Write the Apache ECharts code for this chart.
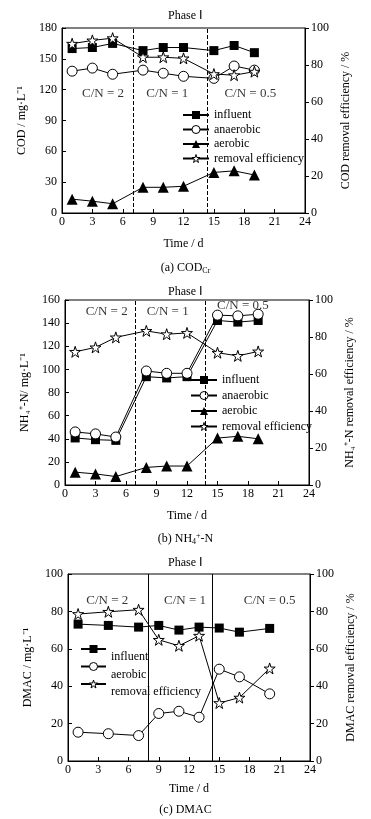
<!DOCTYPE html>
<html>
<head>
<meta charset="utf-8">
<script src="https://cdn.jsdelivr.net/npm/echarts@6/dist/echarts.min.js"></script>
<style>
  html, body { margin: 0; padding: 0; background: #fff; }
  #chart { width: 371px; height: 819px; }
</style>
</head>
<body>
<div id="chart"></div>
<script>
  // (a) COD
  const daysA = [1, 3, 5, 8, 10, 12, 15, 17, 19];
  const codInfluent = [160, 161, 165, 158, 161, 161, 158, 163, 156];
  const codAnaerobic = [138, 141, 135, 139, 136, 133, 131, 143, 139];
  const codAerobic = [13.5, 11.5, 9, 25, 25, 26, 39.5, 41, 37];
  const codRemoval = [91.5, 93.3, 94.5, 84.2, 84.2, 83.6, 75.1, 74.5, 76.4];
  const boundsA = [7, 14.3];

  // (b) NH4+-N
  const daysB = [1, 3, 5, 8, 10, 12, 15, 17, 19];
  const nhInfluent = [40.7, 39.2, 38.6, 93.7, 92.6, 93.7, 142.3, 140.9, 142.3];
  const nhAnaerobic = [45.9, 44.2, 41.5, 98.6, 96.6, 96.6, 146.9, 146.3, 147.7];
  const nhAerobic = [11.1, 9.6, 7.3, 15.2, 16.4, 16.4, 40.6, 42.1, 40];
  const nhRemoval = [72, 74.4, 79.8, 83.3, 81.5, 82.2, 71.5, 69.8, 72.2];
  const boundsB = [6.9, 13.75];

  // (c) DMAC
  const daysC = [1, 4, 7, 9, 11, 13, 15, 17, 20];
  const dmacInfluent = [73.2, 72.5, 71.6, 72.5, 70, 71.6, 71.1, 68.9, 70.9];
  const dmacAerobic = [15.4, 14.6, 13.6, 25.4, 26.6, 23.4, 49.1, 45, 35.9];
  const dmacRemoval = [78.6, 79.8, 80.9, 64.8, 61.6, 67, 31, 33.9, 49.5];
  const boundsC = [8, 14.26];

  const cnText = ['C/N = 2', 'C/N = 1', 'C/N = 0.5'];
  const cnPosA = [[4.05, 116], [10.4, 116], [18.6, 116]];
  const cnPosB = [[4.1, 149.6], [10.1, 149.6], [17.5, 155]];
  const cnPosC = [[3.9, 85.8], [11.6, 85.8], [20, 85.8]];

  const FONT = 'Liberation Serif';
  const STAR = 'path://M50,2 L61,36 L97,36 L68,57 L79,92 L50,71 L21,92 L32,57 L3,36 L39,36 Z';

  const zip = (xs, ys) => xs.map((x, i) => [x, ys[i]]);

  const hollow = {color: '#fff', borderColor: '#000', borderWidth: 1};
  const styles = {
    influent: {symbol: 'rect', symbolSize: 9, itemStyle: {color: '#000'}},
    anaerobic: {symbol: 'circle', symbolSize: 10, itemStyle: hollow},
    aerobic: {symbol: 'triangle', symbolSize: 11, itemStyle: {color: '#000'}},
    removal: {symbol: STAR, symbolSize: 11, itemStyle: hollow}
  };

  function line(name, style, gi, yi, xs, ys, extra) {
    return Object.assign({
      type: 'line',
      name: name,
      xAxisIndex: gi,
      yAxisIndex: yi,
      data: zip(xs, ys),
      symbol: style.symbol,
      symbolSize: style.symbolSize,
      showAllSymbol: true,
      lineStyle: {color: '#000', width: 1},
      itemStyle: style.itemStyle,
      z: 3
    }, extra || {});
  }

  function bounds(xs, dashed) {
    return {
      silent: true,
      symbol: ['none', 'none'],
      label: {show: false},
      lineStyle: {color: '#000', width: 1, type: dashed ? [4, 2] : 'solid'},
      data: xs.map(x => ({xAxis: x}))
    };
  }

  function cnLabels(gi, yi, pos) {
    return {
      type: 'scatter',
      xAxisIndex: gi,
      yAxisIndex: yi,
      silent: true,
      symbolSize: 0,
      data: pos.map((p, i) => ({name: cnText[i], value: p})),
      label: {
        show: true,
        position: 'inside',
        formatter: p => p.name,
        color: '#000',
        fontFamily: FONT,
        fontSize: 13
      }
    };
  }

  const grids = [
    {left: 62, right: 66, top: 28, height: 185},
    {left: 65, right: 62, top: 300, height: 185},
    {left: 68, right: 61, top: 574, height: 187}
  ].map(g => Object.assign(g, {show: true, borderColor: '#000', borderWidth: 1, backgroundColor: 'transparent'}));

  const axisText = {color: '#000', fontFamily: FONT, fontSize: 12};

  const xAxes = [0, 1, 2].map(i => ({
    type: 'value',
    gridIndex: i,
    min: 0,
    max: 24,
    interval: 3,
    name: 'Time / d',
    nameLocation: 'middle',
    nameGap: i === 2 ? 22 : 25,
    nameTextStyle: axisText,
    axisLine: {lineStyle: {color: '#000'}},
    axisTick: {inside: true, length: 4, lineStyle: {color: '#000'}},
    axisLabel: Object.assign({margin: 3}, axisText),
    splitLine: {show: false}
  }));

  function leftAxis(gi, max, interval, name, gap) {
    return {
      type: 'value',
      gridIndex: gi,
      position: 'left',
      min: 0,
      max: max,
      interval: interval,
      name: name,
      nameLocation: 'middle',
      nameGap: gap,
      nameTextStyle: axisText,
      axisLine: {show: true, lineStyle: {color: '#000'}},
      axisTick: {show: true, inside: true, length: 4, lineStyle: {color: '#000'}},
      axisLabel: Object.assign({margin: 5}, axisText),
      splitLine: {show: false}
    };
  }

  function rightAxis(gi, name, gap) {
    return {
      type: 'value',
      gridIndex: gi,
      position: 'right',
      min: 0,
      max: 100,
      interval: 20,
      name: name,
      nameLocation: 'middle',
      nameGap: gap,
      nameTextStyle: axisText,
      axisLine: {show: true, lineStyle: {color: '#000'}},
      axisTick: {show: true, inside: false, length: 4, lineStyle: {color: '#000'}},
      axisLabel: Object.assign({margin: 6}, axisText),
      splitLine: {show: false}
    };
  }

  const yAxes = [
    leftAxis(0, 180, 30, 'COD / mg·L⁻¹', 32),
    rightAxis(0, 'COD removal efficiency / %', 32),
    leftAxis(1, 160, 20, 'NH₄⁺-N/ mg·L⁻¹', 34),
    rightAxis(1, 'NH₄⁺-N removal efficiency / %', 25),
    leftAxis(2, 100, 20, 'DMAC / mg·L⁻¹', 30),
    rightAxis(2, 'DMAC removal efficiency / %', 24)
  ];

  const series = [
    line('influent', styles.influent, 0, 0, daysA, codInfluent, {markLine: bounds(boundsA, true)}),
    line('anaerobic', styles.anaerobic, 0, 0, daysA, codAnaerobic),
    line('aerobic', styles.aerobic, 0, 0, daysA, codAerobic),
    line('removal efficiency', styles.removal, 0, 1, daysA, codRemoval),
    cnLabels(0, 0, cnPosA),

    line('influent', styles.influent, 1, 2, daysB, nhInfluent, {markLine: bounds(boundsB, true)}),
    line('anaerobic', styles.anaerobic, 1, 2, daysB, nhAnaerobic),
    line('aerobic', styles.aerobic, 1, 2, daysB, nhAerobic),
    line('removal efficiency', styles.removal, 1, 3, daysB, nhRemoval),
    cnLabels(1, 2, cnPosB),

    line('influent ', styles.influent, 2, 4, daysC, dmacInfluent, {markLine: bounds(boundsC, false)}),
    line('aerobic ', styles.anaerobic, 2, 4, daysC, dmacAerobic),
    line('removal efficiency ', styles.removal, 2, 5, daysC, dmacRemoval),
    cnLabels(2, 4, cnPosC)
  ];

  const legendItems = names => names.map(n => {
    const item = {name: n};
    if (/^(anaerobic|removal|aerobic $)/.test(n)) {
      item.itemStyle = hollow;
    }
    return item;
  });

  const legendText = {color: '#000', fontFamily: FONT, fontSize: 12, lineHeight: 14};

  const legendBase = {
    orient: 'vertical',
    itemWidth: 26,
    itemHeight: 10,
    itemGap: 0.5,
    selectedMode: false,
    formatter: n => n.trim(),
    textStyle: legendText
  };

  const titleText = {color: '#000', fontFamily: FONT, fontSize: 12, fontWeight: 'normal'};
  const sub = {fontFamily: FONT, fontSize: 8, color: '#000', padding: [6, 0, 0, 0]};
  const sup = {fontFamily: FONT, fontSize: 8, color: '#000', padding: [0, 0, 6, 0]};

  const option = {
    animation: false,
    backgroundColor: '#fff',
    title: [
      {text: 'Phase Ⅰ', left: 'center', top: 5, textStyle: titleText},
      {text: 'Phase Ⅰ', left: 'center', top: 281, textStyle: titleText},
      {text: 'Phase Ⅰ', left: 'center', top: 552, textStyle: titleText},
      {text: '(a) COD{sub|Cr}', left: 'center', top: 256, textStyle: Object.assign({rich: {sub: sub}}, titleText)},
      {text: '(b) NH{sub|4}{sup|+}-N', left: 'center', top: 527, textStyle: Object.assign({rich: {sub: sub, sup: sup}}, titleText)},
      {text: '(c) DMAC', left: 'center', top: 799, textStyle: titleText}
    ],
    legend: [
      Object.assign({}, legendBase, {left: 177, top: 103, data: legendItems(['influent', 'anaerobic', 'aerobic', 'removal efficiency'])}),
      Object.assign({}, legendBase, {left: 185, top: 368, itemGap: 1.5, data: legendItems(['influent', 'anaerobic', 'aerobic', 'removal efficiency'])}),
      Object.assign({}, legendBase, {
        left: 75, top: 630, itemWidth: 25, itemGap: -10.5,
        data: legendItems(['influent ', 'aerobic ', 'removal efficiency ']),
        formatter: n => '{t|' + n.trim() + '}',
        textStyle: Object.assign({rich: {t: Object.assign({padding: [16, 0, 0, 0]}, legendText)}}, legendText)
      })
    ],
    grid: grids,
    xAxis: xAxes,
    yAxis: yAxes,
    series: series
  };

  const chart = echarts.init(document.getElementById('chart'));
  chart.setOption(option);
</script>
</body>
</html>
